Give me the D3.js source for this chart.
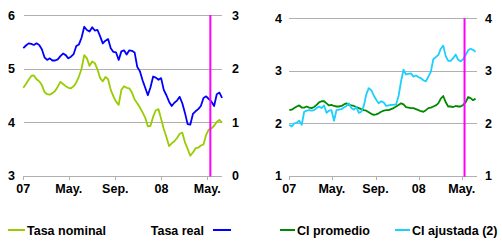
<!DOCTYPE html>
<html><head><meta charset="utf-8">
<script src="https://cdn.jsdelivr.net/npm/d3@7"></script>
<style>
body{margin:0;background:#fff;}
svg text{font-family:"Liberation Sans",Arial,sans-serif;font-weight:bold;fill:#000;}
</style></head>
<body>
<svg id="c" width="502" height="242"></svg>
<script>
// weekly observations starting 2007-01-01
const startDate = "2007-01-01";
const tasaNominal = [4.64,4.71,4.79,4.86,4.87,4.80,4.76,4.69,4.56,4.52,4.51,4.54,4.58,4.66,4.75,4.71,4.67,4.64,4.63,4.67,
  4.74,4.85,5.00,5.25,5.19,5.05,5.13,5.10,4.98,4.82,4.76,4.84,4.80,4.60,4.48,4.38,4.32,4.60,4.67,4.64,
  4.63,4.55,4.42,4.35,4.27,4.18,4.08,3.92,3.93,4.10,4.22,4.24,4.06,3.87,3.72,3.55,3.60,3.64,3.70,3.78,
  3.80,3.62,3.50,3.37,3.43,3.51,3.52,3.56,3.58,3.76,3.86,3.88,3.93,4.00,4.04,3.99];
const tasaReal = [2.38,2.43,2.47,2.46,2.44,2.47,2.44,2.36,2.21,2.16,2.19,2.15,2.15,2.17,2.23,2.28,2.25,2.19,2.22,2.27,
  2.42,2.45,2.58,2.78,2.72,2.69,2.77,2.71,2.72,2.60,2.47,2.52,2.55,2.38,2.31,2.30,2.16,2.32,2.34,2.26,
  2.34,2.33,2.30,2.03,1.95,1.78,1.64,1.50,1.65,1.85,1.83,1.79,1.82,1.60,1.50,1.38,1.30,1.36,1.40,1.47,
  1.35,1.17,0.96,0.95,1.15,1.20,1.24,1.30,1.45,1.48,1.43,1.38,1.30,1.52,1.55,1.45];
const ciPromedio = [2.25,2.26,2.29,2.32,2.34,2.30,2.30,2.32,2.30,2.29,2.31,2.35,2.40,2.42,2.42,2.38,2.34,2.35,2.33,2.32,
  2.32,2.33,2.36,2.38,2.35,2.34,2.33,2.31,2.29,2.27,2.25,2.24,2.21,2.18,2.16,2.17,2.19,2.22,2.24,2.25,
  2.25,2.27,2.29,2.32,2.35,2.38,2.36,2.31,2.30,2.29,2.29,2.27,2.25,2.23,2.22,2.25,2.29,2.30,2.32,2.34,
  2.38,2.47,2.52,2.40,2.32,2.32,2.31,2.33,2.32,2.32,2.35,2.40,2.50,2.48,2.44,2.47];
const ciAjustada = [1.97,1.94,2.00,2.01,2.05,1.97,2.22,2.24,2.25,2.24,2.25,2.29,2.32,2.29,2.34,2.20,2.24,2.25,2.05,2.25,
  2.26,2.27,2.30,2.33,2.38,2.29,2.26,2.31,2.20,2.22,2.33,2.55,2.67,2.63,2.53,2.45,2.38,2.42,2.40,2.33,
  2.34,2.35,2.35,2.36,2.52,2.80,3.02,2.93,2.94,2.95,2.89,2.91,2.88,2.86,2.82,2.80,2.89,2.98,3.22,3.26,
  3.30,3.42,3.48,3.28,3.19,3.19,3.24,3.31,3.21,3.18,3.22,3.30,3.39,3.42,3.40,3.36];
const xTickDates = ["2007-01-01","2007-05-01","2007-09-01","2008-01-01","2008-05-01"];
const xTickLabels = ["07","May.","Sep.","08","May."];
const leftTicksL = [3,4,5,6], leftTicksR = [0,1,2,3];
const rightTicks = [1,2,3,4];
const markerDate = "2008-05-09";
const legendLabels = ["Tasa nominal","Tasa real","CI promedio","CI ajustada (2)"];
const colors = {nom:"#99cc00", real:"#0000ff", prom:"#008a00", ajus:"#1ccfff"};

const parse = d3.timeParse("%Y-%m-%d");
const t0 = parse(startDate);
const dates = tasaNominal.map((_,i)=>d3.timeDay.offset(t0, 7*i));
const svg = d3.select("#c");
const grid = "#b0b0b0";

function panel(cfg){
  const g = svg.append("g");
  const x = d3.scaleTime().domain([parse(xTickDates[0]), parse(xTickDates[4])]).range([cfg.x0, cfg.xMay]);
  const yL = d3.scaleLinear().domain(cfg.dL).range([cfg.yb, cfg.yt]);
  const yR = d3.scaleLinear().domain(cfg.dR).range([cfg.yb, cfg.yt]);
  // gridlines
  g.selectAll("line.grid").data(cfg.tL).join("line")
    .attr("x1", cfg.gx0).attr("x2", cfg.gx1)
    .attr("y1", d=>Math.round(yL(d))+0.5).attr("y2", d=>Math.round(yL(d))+0.5)
    .attr("stroke", grid).attr("stroke-width",1);
  // x ticks
  g.selectAll("line.xt").data(xTickDates).join("line")
    .attr("x1", d=>Math.round(x(parse(d)))+0.5).attr("x2", d=>Math.round(x(parse(d)))+0.5)
    .attr("y1", Math.round(cfg.yb)).attr("y2", Math.round(cfg.yb)+4)
    .attr("stroke", grid);
  g.selectAll("text.xl").data(xTickDates).join("text")
    .attr("x", d=>x(parse(d))).attr("y", 193)
    .attr("text-anchor","middle").attr("font-size",12.5)
    .text((d,i)=>xTickLabels[i]);
  // y labels
  g.selectAll("text.yl").data(cfg.tL).join("text")
    .attr("x", cfg.lx).attr("y", d=>yL(d)+4.5).attr("text-anchor","end").attr("font-size",12.5).text(d=>d);
  g.selectAll("text.yr").data(cfg.tR).join("text")
    .attr("x", cfg.rx).attr("y", d=>yR(d)+4.5).attr("text-anchor","start").attr("font-size",12.5).text(d=>d);
  // series
  cfg.series.forEach(s=>{
    const sc = s.axis==="R" ? yR : yL;
    g.append("path").datum(s.values)
      .attr("fill","none").attr("stroke", s.color).attr("stroke-width",1.8)
      .attr("stroke-linejoin","round")
      .attr("d", d3.line().x((d,i)=>x(dates[i])).y(d=>sc(d)));
  });
  // marker
  const mx = x(parse(markerDate));
  g.append("line").attr("x1",mx).attr("x2",mx).attr("y1",cfg.yt).attr("y2",cfg.yb+1)
    .attr("stroke","#ff00ff").attr("stroke-width",2);
}

panel({x0:23.3, xMay:207.3, gx0:24, gx1:222, yb:175.5, yt:15, dL:[3,6], dR:[0,3],
  tL:leftTicksL, tR:leftTicksR, lx:15, rx:232,
  series:[{values:tasaNominal, color:colors.nom, axis:"L"},{values:tasaReal, color:colors.real, axis:"R"}]});
panel({x0:289.3, xMay:461.7, gx0:289, gx1:477, yb:175.8, yt:18.3, dL:[1,4], dR:[1,4],
  tL:rightTicks, tR:rightTicks, lx:282, rx:485,
  series:[{values:ciPromedio, color:colors.prom, axis:"L"},{values:ciAjustada, color:colors.ajus, axis:"L"}]});

// legend
const leg = svg.append("g");
const legItems = [
  {label:legendLabels[0], color:colors.nom, lx1:8, lx2:25, tx:27, anchor:"start"},
  {label:legendLabels[1], color:colors.real, lx1:213, lx2:231, tx:204, anchor:"end"},
  {label:legendLabels[2], color:colors.prom, lx1:280, lx2:295, tx:297, anchor:"start"},
  {label:legendLabels[3], color:colors.ajus, lx1:395, lx2:410, tx:412, anchor:"start"}
];
legItems.forEach(it=>{
  leg.append("line").attr("x1",it.lx1).attr("x2",it.lx2).attr("y1",230).attr("y2",230)
    .attr("stroke",it.color).attr("stroke-width",2);
  leg.append("text").attr("x",it.tx).attr("y",234.5).attr("text-anchor",it.anchor)
    .attr("font-size",12.5).text(it.label);
});
</script>
</body></html>
